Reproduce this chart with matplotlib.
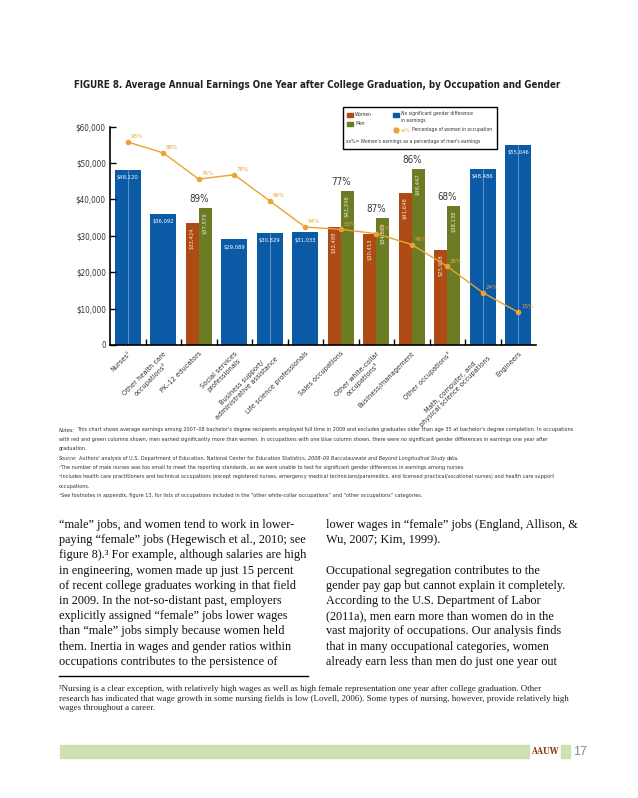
import numpy as np
import matplotlib
matplotlib.use("Agg")
import matplotlib.pyplot as plt
from matplotlib.patches import Rectangle
from matplotlib.lines import Line2D

# ---- data ----
occupations = ["Nurses¹", "Other health care\noccupations²", "PK–12 educators",
               "Social services\nprofessionals", "Business support/\nadministrative assistance",
               "Life science professionals", "Sales occupations",
               "Other white-collar\noccupations³", "Business/management",
               "Other occupations³", "Math, computer, and\nphysical science occupations",
               "Engineers"]
no_gap_earnings = [48120, 36092, None, 29089, 30829, 31033, None, None, None, None, 48486, 55046]
women_earnings = [None, None, 33424, None, None, None, 32488, 30413, 41648, 25988, None, None]
men_earnings = [None, None, 37579, None, None, None, 42248, 34889, 48447, 38138, None, None]
women_pct = [93, 88, 76, 78, 66, 54, 53, 51, 46, 36, 24, 15]
split_bar = [True, False, False, False, True, False, False, False, False, False, True, True]
yticks = [0, 10000, 20000, 30000, 40000, 50000, 60000]
ytick_labels = ["0", "$10,000", "$20,000", "$30,000", "$40,000", "$50,000", "$60,000"]

BLUE = "#0A5AA6"
RUST = "#AE4A14"
OLIVE = "#6B7C24"
ORANGE = "#EBA234"
COND = ["DejaVu Sans"]
SERIF = ["Liberation Serif", "DejaVu Serif"]
plt.rcParams["font.stretch"] = "condensed"

W, H = 638, 798
fig = plt.figure(figsize=(W / 100, H / 100), dpi=100)


def fx(px):
    return px / W


def fy(py):
    return 1 - py / H


ax = fig.add_axes([fx(110), fy(345), fx(536) - fx(110), fy(126.7) - fy(345)])
x = np.arange(len(occupations))

for i in x:
    if no_gap_earnings[i] is not None:
        v = no_gap_earnings[i]
        ax.bar(i, v, width=0.73, color=BLUE)
        if split_bar[i]:
            ax.vlines(i, 0, v, color="#6FA0D6", lw=0.6)
        ax.annotate(f"${v:,}", (i, v), xytext=(0, -4), textcoords="offset points",
                    ha="center", va="top", color="white", fontsize=4.2, family=COND)
    else:
        w, m = women_earnings[i], men_earnings[i]
        ax.bar(i - 0.18, w, width=0.36, color=RUST)
        ax.bar(i + 0.18, m, width=0.36, color=OLIVE)
        for xx, v in ((i - 0.18, w), (i + 0.18, m)):
            ax.annotate(f"${v:,}", (xx, v), xytext=(0, -3), textcoords="offset points",
                        ha="center", va="top", rotation=90, color="#F2E8D8",
                        fontsize=4.2, family=COND)
        ax.annotate(f"{round(w / m * 100)}%", (i, m), xytext=(0, 3), textcoords="offset points",
                    ha="center", va="bottom", color="#333333", fontsize=7, family=COND)

ax.set_xlim(-0.5, len(occupations) - 0.5)
ax.set_ylim(0, 60000)
ax.set_yticks(yticks, ytick_labels, fontsize=5.8, family=COND, color="#333333")
ax.set_xticks(x, occupations, rotation=45, ha="right", rotation_mode="anchor",
              fontsize=5.3, family=COND, color="#333333", multialignment="center")
ax.set_xticks(x[:-1] + 0.5, minor=True)
ax.tick_params(axis="x", which="major", length=0, pad=4)
ax.tick_params(axis="x", which="minor", direction="in", length=4, width=1)
ax.tick_params(axis="y", direction="in", length=4, width=1, pad=3)
for s in ("top", "right"):
    ax.spines[s].set_visible(False)
for s in ("left", "bottom"):
    ax.spines[s].set_linewidth(1.2)

# percentage of women line
ax2 = ax.twinx()
ax2.set_ylim(0, 100)
ax2.axis("off")
ax2.plot(x, women_pct, color=ORANGE, lw=1, marker="o", ms=3)
for i, p in zip(x, women_pct):
    ax2.annotate(f"{p}%", (i, p), xytext=(2, 2), textcoords="offset points",
                 ha="left", va="bottom", color=ORANGE, fontsize=4.4, family=COND)

# title
fig.text(fx(74), fy(85), "FIGURE 8. Average Annual Earnings One Year after College Graduation, by Occupation and Gender",
         fontsize=7.0, fontweight="bold", family=COND, color="#222222", va="center")

renderer = fig.canvas.get_renderer()


def seg_text(px, py, parts, size, family, **kw):
    xf = fx(px)
    sp = fig.text(0, 0, "x x", fontsize=size, family=family)
    nsp = fig.text(0, 0, "xx", fontsize=size, family=family)
    gap = (sp.get_window_extent(renderer).width - nsp.get_window_extent(renderer).width) / W
    sp.remove()
    nsp.remove()
    for s, style, col in parts:
        lead = len(s) - len(s.lstrip(" "))
        xf += lead * gap
        t = fig.text(xf, fy(py), s.strip(" "), fontsize=size, family=family,
                     style=style, color=col, va="center", **kw)
        xf += t.get_window_extent(renderer).width / W
        xf += (len(s) - len(s.rstrip(" "))) * gap


# legend
fig.add_artist(Rectangle((fx(343), fy(149)), fx(497) - fx(343), fy(107) - fy(149),
                         transform=fig.transFigure, fill=False, ec="black", lw=1))
fig.add_artist(Rectangle((fx(347), fy(117)), fx(5.5) , 4.5 / H, transform=fig.transFigure, color=RUST))
fig.add_artist(Rectangle((fx(347), fy(126)), fx(5.5), 4.5 / H, transform=fig.transFigure, color=OLIVE))
fig.add_artist(Rectangle((fx(393), fy(117)), fx(5.5), 4.5 / H, transform=fig.transFigure, color=BLUE))
fig.add_artist(Line2D([fx(396)], [fy(130)], transform=fig.transFigure, marker="o", ms=3.5,
                      color=ORANGE))
lg = dict(fontsize=3.6, family=COND, color="#333333", va="center")
fig.text(fx(355), fy(114.5), "Women", **lg)
fig.text(fx(355), fy(123.5), "Men", **lg)
fig.text(fx(401), fy(114), "No significant gender difference", **lg)
fig.text(fx(401), fy(120.5), "in earnings", **lg)
seg_text(401, 130, [("xx%", "normal", ORANGE), (" Percentage of women in occupation", "normal", "#333333")],
         3.6, COND)
fig.text(fx(346), fy(142), "xx%= Women's earnings as a percentage of men's earnings", **lg)

# notes
NS = 3.95
notes = [
    [("Notes:", "italic"), (" This chart shows average earnings among 2007–08 bachelor's degree recipients employed full time in 2009 and excludes graduates older than age 35 at bachelor's degree completion. In occupations", "normal")],
    [("with red and green columns shown, men earned significantly more than women. In occupations with one blue column shown, there were no significant gender differences in earnings one year after", "normal")],
    [("graduation.", "normal")],
    [("Source:", "italic"), (" Authors' analysis of U.S. Department of Education, National Center for Education Statistics, ", "normal"),
     ("2008–09 Baccalaureate and Beyond Longitudinal Study", "italic"), (" data.", "normal")],
    [("¹The number of male nurses was too small to meet the reporting standards, so we were unable to test for significant gender differences in earnings among nurses.", "normal")],
    [("²Includes health care practitioners and technical occupations (except registered nurses, emergency medical technicians/paramedics, and licensed practical/vocational nurses) and health care support", "normal")],
    [("occupations.", "normal")],
    [("³See footnotes in appendix, figure 13, for lists of occupations included in the “other white-collar occupations” and “other occupations” categories.", "normal")],
]
for k, line in enumerate(notes):
    seg_text(59, 430 + k * 9.35, [(s, st, "#333333") for s, st in line], NS, COND)

# body text
left_col = [
    "“male” jobs, and women tend to work in lower-",
    "paying “female” jobs (Hegewisch et al., 2010; see",
    "figure 8).³ For example, although salaries are high",
    "in engineering, women made up just 15 percent",
    "of recent college graduates working in that field",
    "in 2009. In the not-so-distant past, employers",
    "explicitly assigned “female” jobs lower wages",
    "than “male” jobs simply because women held",
    "them. Inertia in wages and gender ratios within",
    "occupations contributes to the persistence of",
]
right_col = [
    "lower wages in “female” jobs (England, Allison, &",
    "Wu, 2007; Kim, 1999).",
    "",
    "Occupational segregation contributes to the",
    "gender pay gap but cannot explain it completely.",
    "According to the U.S. Department of Labor",
    "(2011a), men earn more than women do in the",
    "vast majority of occupations. Our analysis finds",
    "that in many occupational categories, women",
    "already earn less than men do just one year out",
]
BS = 8.8
for k, (l, r) in enumerate(zip(left_col, right_col)):
    yy = fy(525 + k * 15.2)
    fig.text(fx(59), yy, l, fontsize=BS, family=SERIF, color="#111111", va="center")
    fig.text(fx(326), yy, r, fontsize=BS, family=SERIF, color="#111111", va="center")

fig.add_artist(Line2D([fx(59), fx(308)], [fy(676), fy(676)], transform=fig.transFigure,
                      color="black", lw=1))
foot = [
    "³Nursing is a clear exception, with relatively high wages as well as high female representation one year after college graduation. Other",
    "research has indicated that wage growth in some nursing fields is low (Lovell, 2006). Some types of nursing, however, provide relatively high",
    "wages throughout a career.",
]
for k, s in enumerate(foot):
    fig.text(fx(59), fy(689 + k * 9.6), s, fontsize=6.4, family=SERIF, color="#222222", va="center")

# footer
GREEN = "#CFE0B3"
fig.add_artist(Rectangle((fx(60), fy(758)), fx(529) - fx(60), 13 / H, transform=fig.transFigure,
                         color=GREEN))
fig.add_artist(Rectangle((fx(561), fy(758)), fx(9), 13 / H, transform=fig.transFigure, color=GREEN))
fig.text(fx(544.5), fy(752), "AAUW", fontsize=6.2, family=["DejaVu Serif"], color="#8A3A16",
         ha="center", va="center", fontweight="bold")
fig.text(fx(573), fy(752), "17", fontsize=9, family=["Liberation Sans", "DejaVu Sans"],
         color="#888888", va="center", fontstretch="normal")

fig.savefig("out.png", dpi=100, facecolor="white")
